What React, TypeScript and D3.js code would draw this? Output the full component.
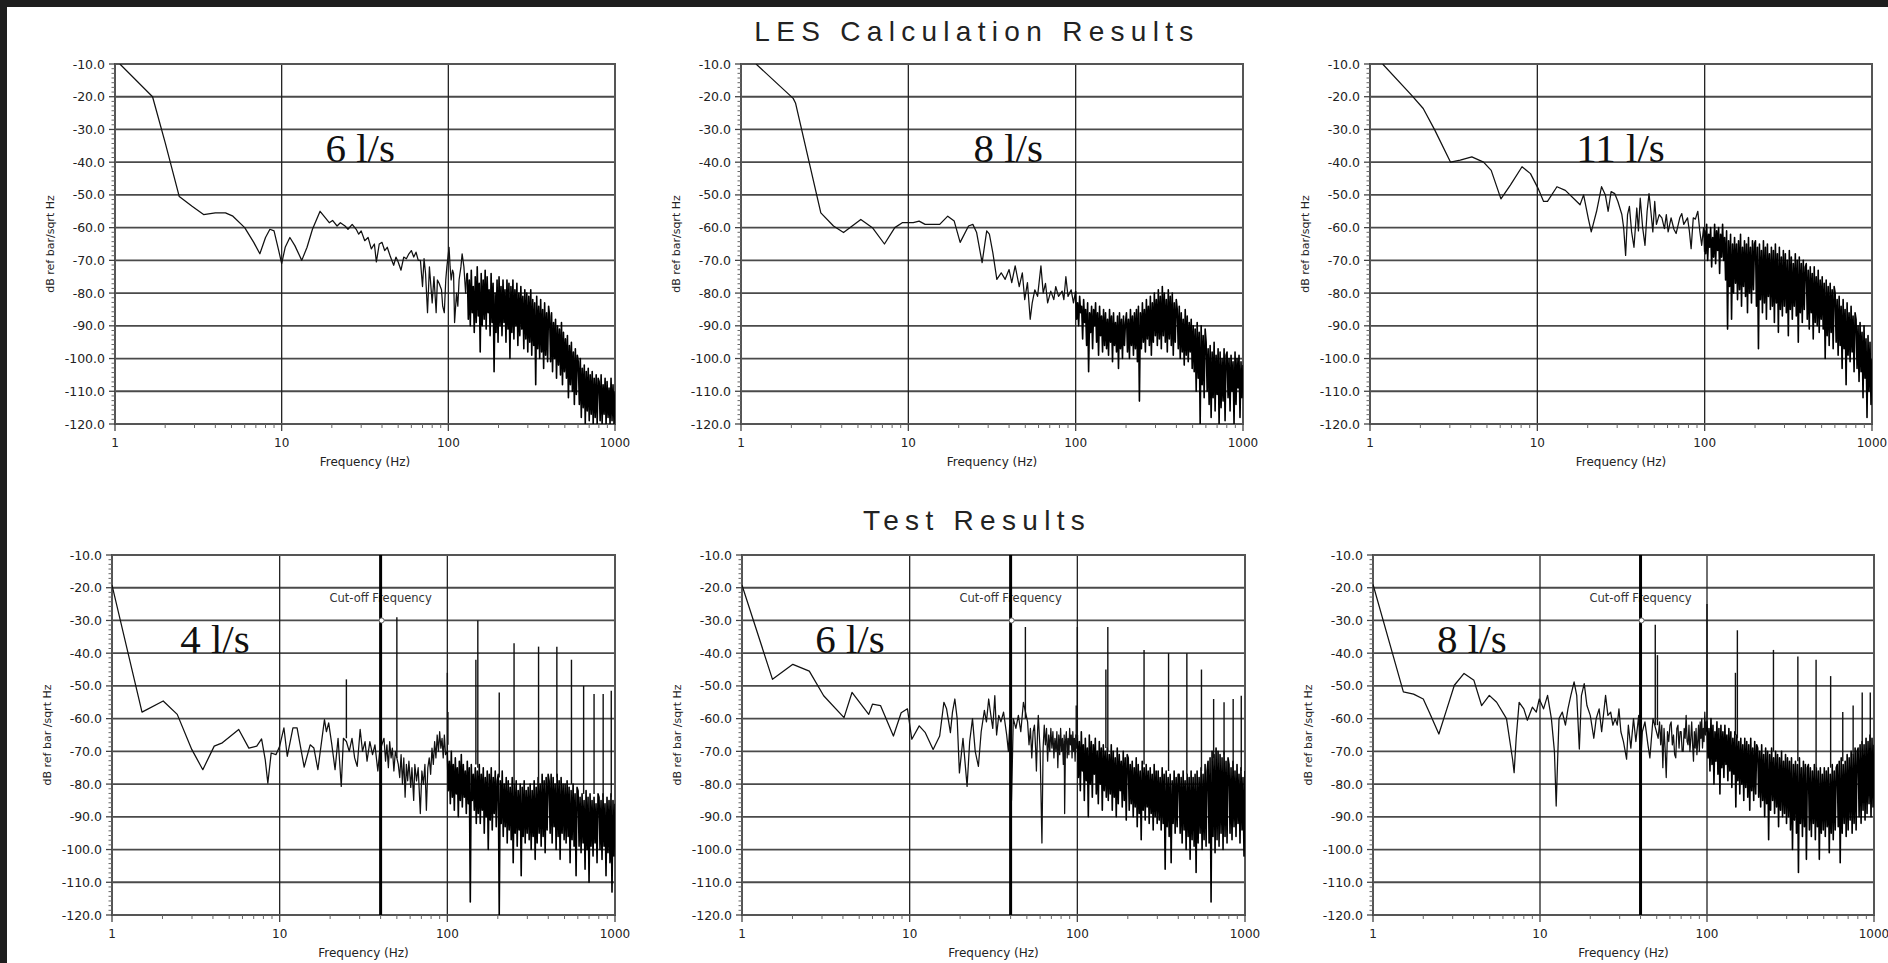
import React from 'react';
import * as d3 from 'd3';

type Pair = [number, number];
type Spike = [number, number, number]; // frequency, peak dB, foot dB

const W = 1888;
const H = 963;

const Y_TICKS = [-10, -20, -30, -40, -50, -60, -70, -80, -90, -100, -110, -120];
const X_TICKS = [1, 10, 100, 1000];
const X_GRID = [10, 100];

// ---------- LES calculation, 6 l/s ----------
const les6Pairs: Pair[] = [
  [1.07, -10], [1.68, -20], [2.0, -34], [2.43, -50.5], [2.9, -53.5], [3.4, -56], [4.0, -55.5], [4.6, -55.5],
  [5.1, -56.5], [6.0, -60], [6.8, -64.5], [7.4, -68], [8.0, -63], [8.5, -60.5], [9.0, -61], [9.6, -67],
  [10.0, -71], [10.5, -66], [11.2, -63], [12.0, -65.5], [13.2, -70], [14.2, -66], [15.3, -60.5], [17.0, -55],
  [18.3, -57], [19.3, -58.5], [20.2, -57.8], [21.5, -59.5], [22.5, -58.5], [24, -59.5], [25, -60.5], [26.5, -59],
  [28, -60.5], [29, -62], [30, -61], [31.5, -64], [33, -63], [34.5, -66.5], [36, -65], [37, -70.5],
  [38.5, -65], [40, -64.5], [41.5, -67], [43, -66], [45, -69], [47, -71.5], [48.5, -69], [50, -70.5],
  [52, -73], [54, -69], [56, -69.5], [58, -68], [60, -67], [62, -69], [64, -67.5], [66, -70],
  [68, -70], [70, -78], [71.5, -69.5], [73, -74], [75, -86], [77, -72], [80, -83], [82, -75],
  [84.5, -86], [86, -76], [88, -77], [91, -79], [92.5, -84], [94.6, -86], [96.5, -76], [98, -72],
  [101, -66], [102.5, -72], [104, -76], [106, -73], [107.5, -74], [109, -89], [112, -80], [114, -84],
  [116, -76], [119, -72], [121, -68], [124, -72], [127, -80], [129, -74],
];
const les6Dense = [
  -74, -88, -76, -90, -73, -86, -78, -92, -75, -89, -72, -87, -77, -98, -74, -90, -76, -88, -73, -91,
  -75, -86, -79, -93, -74, -89, -77, -104, -80, -92, -76, -95,
  -75, -90, -78, -93, -76, -89, -79, -95, -76, -91, -77, -100, -78, -92, -76, -94, -79, -90, -77, -96,
  -80, -93, -78, -91, -81, -97, -79, -94, -80, -98,
  -81, -95, -79, -99, -82, -96, -83, -108, -81, -97, -84, -100, -82, -98, -85, -103, -83, -99, -86, -101, -84,
  -87, -101, -86, -104, -89, -100, -88, -106, -90, -102, -91, -105, -89, -108, -92, -104,
  -94, -106, -93, -112, -96, -108, -95, -110, -98, -114, -97, -111, -99,
  -101, -114, -100, -118, -103, -115, -102, -120, -104, -116, -103, -119, -105, -117, -104, -120, -106, -118, -105, -120, -106,
  -107, -119, -105, -120, -108, -117, -106, -120, -107, -118, -109, -120, -106, -119, -108, -120, -110,
];

// ---------- LES calculation, 8 l/s ----------
const les8Pairs: Pair[] = [
  [1.23, -10], [2.05, -20.5], [2.12, -22], [3.0, -55.5], [3.57, -59.5], [4.1, -61.5], [5.2, -57.5], [6.1, -60],
  [7.2, -65], [8.3, -60], [9.2, -58.5], [10.7, -58.5], [11.6, -58], [12.6, -59], [15.4, -59], [17.2, -56.5],
  [18.8, -58], [20.4, -64.5], [22.9, -59.5], [24.3, -59], [25.6, -61.5], [27.6, -70.7], [29.4, -61], [30.5, -62],
  [32, -67.7], [33.8, -75.8], [35.9, -73.8], [37.9, -75.8], [40, -72.8], [41.5, -76.8], [43.5, -71.7], [46, -78],
  [48, -73.8], [49.6, -82], [51.5, -76.8], [53.5, -88], [55, -83], [57, -79], [59.2, -81], [62, -71.7],
  [64, -80], [66, -77], [68, -83], [71, -79.4], [74, -82], [76, -78], [79, -81], [83, -79.4],
  [85, -82], [87.4, -75], [90, -81], [94, -79], [97, -83], [100, -79.4],
];
const les8Dense = [
  -80, -88, -83, -90, -81, -86, -84, -94, -82, -89, -85, -96, -83, -104, -86, -92, -84, -97, -85, -90,
  -83, -95, -86, -99, -84, -93, -87, -98, -85, -96,
  -86, -97, -88, -99, -85, -95, -87, -101, -86, -96, -89, -98, -87, -103, -86, -97, -88, -100, -87, -96, -89,
  -86, -98, -88, -100, -85, -96, -87, -99, -86, -97, -85, -101, -84, -113, -86, -97, -83, -95, -85, -98,
  -82, -94, -84, -96, -81, -99, -83, -95, -80, -93,
  -82, -96, -79, -94, -81, -97, -78, -93, -80, -95, -82, -98, -79, -94, -81, -96, -80, -99, -83, -95, -82,
  -85, -97, -84, -100, -86, -98, -88, -102, -85, -99, -87, -101, -89, -98, -88, -103,
  -90, -104, -91, -110, -89, -106, -92, -120, -90, -108, -93, -112, -91,
  -95, -110, -97, -114, -96, -118, -98, -112, -95, -116, -99, -111, -97, -120, -98, -115, -100, -113, -97, -119, -99,
  -98, -112, -100, -116, -99, -110, -101, -120, -98, -114, -100, -109, -99, -118, -101, -112, -102,
];

// ---------- LES calculation, 11 l/s ----------
const les11Pairs: Pair[] = [
  [1.19, -10], [1.77, -19.5], [2.08, -23.6], [2.44, -30.2], [3.03, -40], [3.46, -39.4], [4.06, -38.4], [4.77, -40],
  [5.3, -42.5], [6.06, -51.2], [6.9, -47], [8.1, -41.4], [9.1, -43.5], [10.1, -48], [10.9, -52], [11.5, -52],
  [13.1, -47.5], [14.7, -48.6], [17.2, -52], [18.0, -53], [18.9, -50], [20.2, -57.4], [21, -61.3], [22.6, -55],
  [24.2, -47.5], [25.5, -50], [26.5, -55], [27.6, -49], [29, -49.6], [30.3, -52], [32, -56], [32.8, -60],
  [33.7, -68.5], [34.6, -56], [35.5, -53.5], [36.6, -61.3], [37.8, -66], [39.3, -54], [40.2, -61], [41.2, -51],
  [42.6, -60], [44, -65.4], [45.3, -55], [46.5, -49.6], [47.7, -55], [49, -61.3], [50.3, -52], [51.5, -59],
  [53.5, -56], [55.5, -57], [57.5, -60.3], [59, -56], [60.5, -61.3], [63, -57], [65.5, -60.5], [67.5, -61.8],
  [71, -57], [73, -55.7], [75, -59], [79, -57], [81, -61], [83, -66.4], [85.5, -57], [88, -57.4],
  [91, -55], [93.5, -61], [96, -65.4], [98.5, -60], [100, -67.4],
];
const les11Dense = [
  -61, -68, -59, -70, -62, -66, -60, -72, -63, -69, -59, -71, -61, -67, -60, -74, -62, -69, -59, -70,
  -63, -76, -61, -91, -64, -78, -62, -88, -65, -80,
  -63, -77, -65, -82, -64, -79, -62, -84, -66, -78, -64, -81, -65, -86, -63, -80, -66, -83, -64, -79, -65,
  -64, -84, -66, -97, -65, -82, -67, -86, -64, -83, -66, -88, -65, -81, -68, -85, -66, -84, -67, -89,
  -65, -83, -68, -92, -66, -85, -69, -87, -67, -84,
  -68, -86, -70, -93, -67, -85, -69, -88, -71, -84, -68, -87, -70, -95, -69, -86, -71, -89, -70, -85, -72,
  -71, -88, -73, -91, -72, -86, -74, -94, -72, -89, -75, -90, -73, -92, -76, -88,
  -75, -91, -77, -100, -76, -93, -78, -96, -77, -92, -79, -97, -78,
  -80, -95, -82, -99, -81, -96, -84, -103, -82, -97, -85, -108, -83, -99, -86, -101, -84, -98, -87, -104, -86,
  -88, -103, -90, -107, -89, -104, -92, -112, -90, -106, -94, -118, -93, -110, -95, -114, -100,
];

// ---------- Test, 4 l/s ----------
const test4Pairs: Pair[] = [
  [1, -19.2], [1.51, -58], [2.02, -54.6], [2.45, -58.7], [2.99, -69.4], [3.48, -75.6], [4.07, -68.4], [4.55, -67.4],
  [5.7, -63.3], [6.55, -69], [7.3, -68.4], [7.8, -66.2], [8.2, -72.5], [8.5, -79.7], [8.9, -70.5], [9.5, -71],
  [10, -68.4], [10.6, -62.8], [11.1, -71.5], [12, -62.8], [12.7, -62.8], [14, -74.8], [15.2, -68], [16, -69],
  [16.9, -75.6], [18.5, -60.3], [19, -64], [19.6, -61.3], [20.4, -67.4], [21.4, -75.6], [22.3, -66], [23.3, -80.7],
  [24, -66], [25, -67], [26, -70], [27, -66], [28, -72], [29, -74.6], [30.2, -63.3], [31.2, -70],
  [32.3, -67], [33.2, -73], [34.5, -67], [35.8, -71], [37, -68], [38.5, -76], [39.5, -70], [41.9, -66],
  [42.8, -73], [43.6, -68], [44.5, -75], [45.3, -67], [46.2, -72], [47, -69], [48, -76], [49, -70],
  [51, -74], [52, -78], [53, -71], [54, -80], [55, -72], [56, -84], [57, -74], [58, -79],
  [59, -73], [60.5, -81], [61.5, -75], [63, -85], [64, -74], [65.5, -79], [67, -75], [68, -82],
  [69, -89], [70.5, -76], [72, -80], [73.5, -74], [75, -88], [76.5, -75], [78, -72], [79.5, -77],
  [81, -69], [82.5, -74], [84, -67], [85.5, -72], [87, -65], [88.5, -70], [90, -64], [91.5, -69],
  [93, -66], [94.5, -72], [96, -65], [97.5, -71], [100, -70],
];
const test4Dense = [
  -71, -82, -73, -86, -70, -84, -74, -88, -72, -83, -75, -90, -73, -85, -71, -87, -74, -84, -76, -89,
  -73, -86, -75, -116, -74, -85, -77, -88, -75, -92,
  -76, -89, -74, -92, -77, -88, -75, -95, -78, -90, -76, -100, -77, -91, -75, -94, -78, -89, -76, -93, -79,
  -77, -120, -79, -92, -76, -96, -80, -93, -78, -98, -79, -94, -81, -97, -78, -104, -80, -95, -79, -99,
  -82, -94, -80, -108, -81, -96, -79, -98, -82, -95,
  -81, -97, -80, -100, -82, -96, -79, -103, -81, -98, -78, -95, -80, -99, -77, -96, -79, -101, -78, -94, -77,
  -79, -95, -77, -98, -78, -93, -80, -100, -77, -96, -79, -103, -78, -95, -80, -97,
  -80, -98, -79, -96, -81, -104, -82, -97, -80, -99, -83, -108, -81,
  -82, -99, -84, -101, -83, -98, -85, -106, -82, -100, -84, -110, -83, -99, -85, -102, -84, -98, -86, -104, -83,
  -84, -100, -85, -103, -83, -99, -86, -108, -84, -101, -85, -104, -83, -113, -85, -102, -86,
];
const test4Spikes: Spike[] = [
  [25, -48, -66], [50, -29, -72], [100, -46, -70], [100.8, -58, -68], [148, -42, -74], [152, -30, -75],
  [204, -52, -78], [250, -37, -80], [350, -38, -80], [450, -38, -78], [550, -42, -80], [650, -50, -83],
  [750, -52.5, -83], [850, -52.5, -84], [950, -51.5, -84],
];

// ---------- Test, 6 l/s ----------
const test6Pairs: Pair[] = [
  [1, -19.2], [1.52, -48], [2.01, -43.4], [2.52, -45.5], [3.07, -53], [4.06, -59.7], [4.53, -52], [5.7, -58.7],
  [6.0, -55.6], [6.7, -56], [8.0, -65.3], [8.9, -58.2], [9.7, -57], [10.3, -66.3], [11.4, -62.2], [12.4, -64.3],
  [13.8, -69.4], [15.1, -65.3], [16, -55], [16.6, -57], [17.5, -64.3], [18, -58], [18.6, -54], [19.2, -60],
  [19.8, -76.6], [20.8, -66], [22, -80.7], [22.8, -67], [23.7, -60], [24.6, -70], [25.7, -74.6], [26.7, -64],
  [27.9, -57.5], [28.7, -61], [29.6, -54], [30.5, -59], [31.3, -63], [32.2, -53], [33, -65], [34, -59],
  [35, -61], [36.3, -58], [37.9, -65], [38.8, -70], [39.5, -62], [40.5, -85], [41.5, -60], [43, -63],
  [44.5, -59], [46, -64], [47.7, -55], [50.5, -61], [51.5, -68], [52.5, -63], [53.5, -72], [54.5, -64],
  [55.5, -62], [56.5, -70], [57, -76], [58, -63], [58.5, -59], [60, -70], [61.5, -98], [62.5, -69],
  [63.5, -62], [64.5, -68], [65.5, -63], [66.5, -73], [67.5, -65], [68.5, -70], [69.5, -63], [70.5, -69],
  [71.5, -64], [72.5, -72], [73.5, -66], [74.5, -70], [75.5, -64], [76.5, -75], [77.5, -65], [78.5, -71],
  [79.5, -63], [80.5, -70], [81.5, -66], [82.5, -74], [83.5, -65], [84, -89], [85, -67], [86, -64],
  [87, -72], [88, -66], [89, -71], [90, -63], [91, -68], [92, -65], [93, -72], [94, -64],
  [95, -70], [96, -66], [97, -73], [98, -65], [99, -69], [100, -68],
];
const test6Dense = [
  -65, -78, -67, -82, -64, -76, -68, -85, -66, -79, -69, -90, -65, -80, -67, -84, -68, -77, -66, -83,
  -70, -86, -67, -80, -69, -88, -68, -82, -70, -84,
  -69, -85, -71, -83, -68, -88, -70, -84, -72, -90, -69, -86, -71, -82, -73, -87, -70, -85, -72, -91, -71,
  -72, -88, -74, -86, -73, -90, -75, -87, -72, -93, -74, -89, -76, -97, -73, -88, -75, -91, -74, -87,
  -76, -92, -75, -89, -77, -94, -74, -90, -76, -92,
  -76, -91, -78, -94, -75, -92, -77, -106, -76, -93, -78, -96, -77, -104, -79, -92, -76, -95, -78, -93, -77,
  -77, -95, -78, -98, -76, -94, -79, -100, -77, -96, -78, -103, -76, -97, -78, -99,
  -77, -107, -76, -98, -78, -95, -75, -100, -77, -97, -74, -99, -76,
  -73, -98, -72, -116, -70, -96, -71, -101, -69, -97, -70, -99, -71, -95, -72, -100, -70, -96, -73, -98, -72,
  -74, -95, -75, -97, -73, -93, -76, -96, -74, -92, -77, -98, -75, -94, -78, -102, -76,
];
const test6Spikes: Spike[] = [
  [49, -32, -60], [98.5, -56, -66], [100, -32, -66], [148, -45, -69], [152, -32, -70], [250, -39, -74],
  [350, -40, -76], [450, -40, -77], [550, -45, -76], [650, -54, -72], [750, -55, -71], [850, -54, -75],
  [950, -53, -76],
];

// ---------- Test, 8 l/s ----------
const test8Pairs: Pair[] = [
  [1, -19], [1.52, -51.8], [1.75, -52.5], [2.0, -54], [2.17, -58], [2.48, -64.7], [2.73, -58], [3.07, -49.8],
  [3.51, -46.2], [4.02, -48.3], [4.47, -56], [4.97, -52.9], [5.5, -55], [6.3, -60], [6.85, -72.4], [7.0, -76.5],
  [7.2, -66], [7.5, -55], [8.0, -57], [8.4, -60.5], [9.0, -56.5], [9.5, -58], [9.9, -54], [10.5, -57],
  [11.1, -52.9], [11.7, -60], [12.2, -70], [12.5, -86.7], [12.8, -70], [13.0, -60], [13.6, -58], [14.2, -62],
  [14.7, -57], [15.3, -52.9], [16.0, -48.8], [16.6, -53], [17.2, -69.3], [17.7, -53], [18.4, -49.3], [19.1, -56],
  [20, -59], [21, -66], [21.7, -60], [22.6, -57], [23.4, -64], [24.7, -52.9], [25.5, -59], [26.5, -58],
  [27.3, -62], [28.2, -60], [29, -62], [29.7, -57], [30.5, -64], [31.6, -67], [33, -72.4], [33.8, -62],
  [35, -69], [36.3, -60], [37.5, -67], [39, -59], [40, -74.6], [41, -64], [42.5, -61], [44.3, -68],
  [45.5, -72], [47.5, -60], [51, -66], [52, -61], [52.8, -68], [53.6, -62], [54.4, -75], [55.3, -63],
  [56.1, -69], [57, -78], [58, -64], [59, -67], [60, -62], [61, -61], [62, -68], [63, -65],
  [64, -71], [65, -72], [66, -63], [67, -62], [68, -69], [69, -64], [70, -64], [71, -70],
  [72, -70], [73, -63], [74, -66], [75, -59], [76, -67], [77, -68], [78, -62], [79, -70],
  [80, -66], [81, -61], [82, -68], [83, -73], [84, -64], [85, -69], [86, -63], [87, -71],
  [88, -67], [89, -62], [90, -70], [91, -61], [92, -66], [93, -60], [94, -69], [95, -63],
  [96, -67], [97, -58], [98, -65], [99, -61], [100, -64],
];
const test8Dense = [
  -61, -72, -63, -76, -60, -74, -62, -80, -64, -73, -61, -77, -63, -83, -62, -75, -64, -78, -62, -74,
  -65, -79, -63, -76, -64, -81, -66, -77, -64, -87,
  -65, -79, -67, -83, -66, -80, -68, -85, -66, -81, -67, -84, -68, -88, -66, -82, -69, -85, -67, -83, -68,
  -69, -84, -70, -87, -68, -85, -71, -90, -69, -86, -70, -97, -71, -88, -69, -85, -72, -89, -70, -87,
  -71, -93, -72, -88, -70, -90, -73, -89, -71, -92,
  -72, -90, -73, -94, -72, -100, -74, -91, -73, -95, -74, -107, -72, -92, -75, -96, -73, -93, -74, -103, -75,
  -74, -94, -75, -96, -76, -92, -74, -97, -75, -93, -76, -103, -75, -95, -77, -94,
  -75, -96, -76, -93, -75, -101, -77, -95, -74, -97, -76, -94, -75,
  -74, -93, -73, -104, -72, -95, -74, -92, -73, -96, -71, -94, -72, -91, -70, -95, -71, -92, -69, -94, -70,
  -69, -90, -68, -92, -67, -88, -68, -91, -66, -89, -67, -86, -65, -90, -66, -87, -68,
];
const test8Spikes: Spike[] = [
  [49, -31.3, -62], [50.5, -40.6, -62], [100, -25, -62], [148, -46, -65], [152, -33, -66], [250, -39, -70],
  [350, -41, -73], [450, -42, -75], [550, -47, -75], [650, -58, -73], [750, -56, -71], [850, -52, -68],
  [950, -52, -67],
];

const CUTOFF_HZ = 40;
const CUTOFF_MARK_DB = -30;

interface PanelSpec {
  id: string;
  x: number;
  y: number;
  w: number;
  h: number;
  label: string;
  labelHz: number;
  yTitle: string;
  pairs: Pair[];
  dense: number[];
  denseFrom: number;
  spikes?: Spike[];
  cutoff?: boolean;
}

const panels: PanelSpec[] = [
  { id: 'les6', x: 115, y: 64, w: 500, h: 360, label: '6 l/s', labelHz: 18.3, yTitle: 'dB ref bar/sqrt Hz', pairs: les6Pairs, dense: les6Dense, denseFrom: 130 },
  { id: 'les8', x: 741, y: 64, w: 502, h: 360, label: '8 l/s', labelHz: 24.5, yTitle: 'dB ref bar/sqrt Hz', pairs: les8Pairs, dense: les8Dense, denseFrom: 100 },
  { id: 'les11', x: 1370, y: 64, w: 502, h: 360, label: '11 l/s', labelHz: 17.1, yTitle: 'dB ref bar/sqrt Hz', pairs: les11Pairs, dense: les11Dense, denseFrom: 100 },
  { id: 'test4', x: 112, y: 555, w: 503, h: 360, label: '4 l/s', labelHz: 2.55, yTitle: 'dB ref bar /sqrt Hz', pairs: test4Pairs, dense: test4Dense, denseFrom: 100, spikes: test4Spikes, cutoff: true },
  { id: 'test6', x: 742, y: 555, w: 503, h: 360, label: '6 l/s', labelHz: 2.73, yTitle: 'dB ref bar /sqrt Hz', pairs: test6Pairs, dense: test6Dense, denseFrom: 100, spikes: test6Spikes, cutoff: true },
  { id: 'test8', x: 1373, y: 555, w: 501, h: 360, label: '8 l/s', labelHz: 2.42, yTitle: 'dB ref bar /sqrt Hz', pairs: test8Pairs, dense: test8Dense, denseFrom: 100, spikes: test8Spikes, cutoff: true },
];

const AXIS_FONT = '"DejaVu Sans", Verdana, sans-serif';

function Panel({ p }: { p: PanelSpec }) {
  const x = d3.scaleLog().domain([1, 1000]).range([p.x, p.x + p.w]);
  const y = d3.scaleLinear().domain([-10, -120]).range([p.y, p.y + p.h]);
  const n = p.dense.length;
  // dense high-frequency readings sit on an even log-frequency grid from denseFrom to 1 kHz
  const densePts: Pair[] = p.dense.map((v, i) => [p.denseFrom * Math.pow(1000 / p.denseFrom, i / (n - 1)), v]);
  const lastPair = p.pairs[p.pairs.length - 1];
  const line = d3.line<Pair>().x((d) => x(d[0])).y((d) => y(d[1]));

  const minorX: number[] = [];
  [1, 10, 100].forEach((dec) => {
    for (let k = 2; k <= 9; k++) minorX.push(dec * k);
  });
  const minorY: number[] = [];
  for (let i = 0; i < Y_TICKS.length - 1; i++) {
    for (let k = 1; k < 7; k++) minorY.push(Y_TICKS[i] - (10 * k) / 7);
  }
  const bottom = p.y + p.h;

  return (
    <g>
      <defs>
        <clipPath id={`clip-${p.id}`}>
          <rect x={p.x} y={p.y} width={p.w} height={p.h} />
        </clipPath>
      </defs>
      <rect x={p.x} y={p.y} width={p.w} height={p.h} fill="#fff" />
      {Y_TICKS.map((t) => (
        <line key={`gy${t}`} x1={p.x} x2={p.x + p.w} y1={y(t)} y2={y(t)} stroke="#4a4a4a" strokeWidth={1.8} />
      ))}
      {X_GRID.map((f) => (
        <line key={`gx${f}`} x1={x(f)} x2={x(f)} y1={p.y} y2={bottom} stroke="#222" strokeWidth={1.3} />
      ))}
      <rect x={p.x} y={p.y} width={p.w} height={p.h} fill="none" stroke="#555" strokeWidth={2} />

      {/* y ticks */}
      {Y_TICKS.map((t) => (
        <line key={`ty${t}`} x1={p.x - 6} x2={p.x} y1={y(t)} y2={y(t)} stroke="#444" strokeWidth={1.3} />
      ))}
      {minorY.map((t, i) => (
        <line key={`my${i}`} x1={p.x - 3.5} x2={p.x} y1={y(t)} y2={y(t)} stroke="#666" strokeWidth={1} />
      ))}
      {Y_TICKS.map((t) => (
        <text key={`ly${t}`} x={p.x - 10} y={y(t) + 4.5} textAnchor="end" fontFamily={AXIS_FONT} fontSize={12.5} fill="#222">
          {t.toFixed(1)}
        </text>
      ))}

      {/* x ticks */}
      {X_TICKS.map((f) => (
        <line key={`tx${f}`} x1={x(f)} x2={x(f)} y1={bottom} y2={bottom + 7} stroke="#444" strokeWidth={1.3} />
      ))}
      {minorX.map((f) => (
        <line key={`mx${f}`} x1={x(f)} x2={x(f)} y1={bottom} y2={bottom + 4} stroke="#666" strokeWidth={1} />
      ))}
      {X_TICKS.map((f) => (
        <text key={`lx${f}`} x={x(f)} y={bottom + 23} textAnchor="middle" fontFamily={AXIS_FONT} fontSize={12} fill="#222">
          {f}
        </text>
      ))}
      <text x={p.x + p.w / 2} y={bottom + 42} textAnchor="middle" fontFamily={AXIS_FONT} fontSize={12} fill="#222">
        Frequency (Hz)
      </text>
      <text
        transform={`translate(${p.x - 65},${p.y + p.h / 2}) rotate(-90)`}
        textAnchor="middle"
        dominantBaseline="central"
        fontFamily={AXIS_FONT}
        fontSize={11}
        fill="#222"
      >
        {p.yTitle}
      </text>

      {/* spectrum trace: resolved low-frequency part, then the dense high-frequency band */}
      <g clipPath={`url(#clip-${p.id})`}>
        <path d={line(p.pairs) ?? ''} fill="none" stroke="#111" strokeWidth={1.25} strokeLinejoin="round" />
        <path d={line([lastPair, ...densePts]) ?? ''} fill="none" stroke="#000" strokeWidth={1.6} strokeLinejoin="round" />
        {p.spikes?.map((s, i) => (
          <line key={`sp${i}`} x1={x(s[0])} x2={x(s[0])} y1={y(s[2])} y2={y(s[1])} stroke="#111" strokeWidth={1.4} />
        ))}
      </g>

      {p.cutoff && (
        <g>
          <text x={x(CUTOFF_HZ)} y={y(-23) + 4} textAnchor="middle" fontFamily={AXIS_FONT} fontSize={11.5} fill="#333">
            Cut-off Frequency
          </text>
          <line x1={x(CUTOFF_HZ)} x2={x(CUTOFF_HZ)} y1={p.y} y2={bottom} stroke="#000" strokeWidth={3} />
          <circle cx={x(CUTOFF_HZ) + 1} cy={y(CUTOFF_MARK_DB)} r={2.5} fill="#fff" stroke="#666" strokeWidth={1} />
        </g>
      )}

      <text x={x(p.labelHz)} y={y(-40)} fontFamily='"Liberation Serif", "Times New Roman", serif' fontSize={41} fill="#111">
        {p.label}
      </text>
    </g>
  );
}

export default function App() {
  const titleFont = '"Liberation Sans", Arial, sans-serif';
  return (
    <svg width={W} height={H} viewBox={`0 0 ${W} ${H}`} style={{ position: 'absolute', left: 0, top: 0, background: '#fff' }}>
      <rect x={0} y={0} width={W} height={H} fill="#fff" />
      <rect x={0} y={0} width={W} height={7} fill="#1e1e1e" />
      <rect x={0} y={0} width={7} height={H} fill="#1e1e1e" />
      <text x={977} y={41} textAnchor="middle" fontFamily={titleFont} fontSize={28} letterSpacing={6.3} fill="#222">
        LES Calculation Results
      </text>
      <text x={977} y={530} textAnchor="middle" fontFamily={titleFont} fontSize={28} letterSpacing={6.3} fill="#222">
        Test Results
      </text>
      {panels.map((p) => (
        <Panel key={p.id} p={p} />
      ))}
    </svg>
  );
}
